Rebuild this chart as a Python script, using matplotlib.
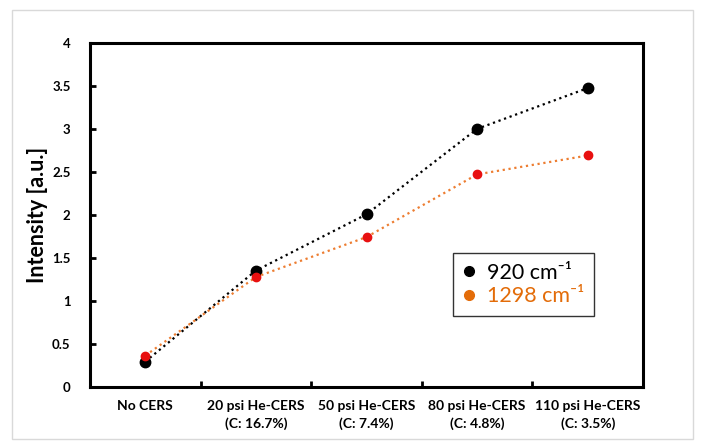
import matplotlib
matplotlib.use("Agg")
import matplotlib.pyplot as plt
from matplotlib.lines import Line2D
from matplotlib.patches import Rectangle

categories = ["No CERS", "20 psi He-CERS\n(C: 16.7%)", "50 psi He-CERS\n(C: 7.4%)",
              "80 psi He-CERS\n(C: 4.8%)", "110 psi He-CERS\n(C: 3.5%)"]
s920 = [0.29, 1.35, 2.005, 3.0, 3.475]
s1298 = [0.36, 1.275, 1.74, 2.47, 2.69]
yticks = [0, 0.5, 1, 1.5, 2, 2.5, 3, 3.5, 4]
ytick_labels = ["0", "0.5", "1", "1.5", "2", "2.5", "3", "3.5", "4"]

plt.rcParams['font.family'] = ['Lato', 'DejaVu Sans']

fig = plt.figure(figsize=(7.04, 4.48), dpi=100)
fig.patches.append(Rectangle((12/704, 1-439/448), (693-12)/704, (439-10)/448,
                             transform=fig.transFigure, fill=False,
                             edgecolor='#d9d9d9', linewidth=1.0))
ax = fig.add_axes([90/704, 1-386.5/448, (643-90)/704, (386.5-43)/448])

x = list(range(len(categories)))
ax.plot(x, s920, linestyle=':', color='black', linewidth=1.6, marker='o',
        markersize=7.5, markerfacecolor='black', markeredgecolor='black', zorder=3)
ax.plot(x, s1298, linestyle=':', color='#ed7d31', linewidth=1.6, marker='o',
        markersize=6, markerfacecolor='#e81010', markeredgecolor='#e81010', zorder=4)

ax.set_xlim(-0.5, len(categories) - 0.5)
ax.set_ylim(0, 4)
ax.set_yticks(yticks)
ax.set_yticklabels(ytick_labels, fontsize=9.5, fontweight='bold')
ax.set_xticks([i + 0.5 for i in range(len(categories) - 1)])
ax.set_xticklabels([])
ax.set_xticks(x, minor=True)
ax.set_xticklabels(categories, minor=True, fontsize=10, fontweight='bold',
                   linespacing=1.45)
ax.tick_params(axis='x', which='minor', length=0, pad=10)
ax.tick_params(axis='x', which='major', direction='in', length=4, width=2)
ax.tick_params(axis='y', direction='in', length=4, width=2, pad=14)
for sp in ax.spines.values():
    sp.set_linewidth(2.2)
ax.set_ylabel("Intensity [a.u.]", fontsize=15.5, fontweight='bold')
ax.yaxis.set_label_coords(-42/553, 0.5)

handles = [Line2D([], [], linestyle='none', marker='o', color='black', markersize=7),
           Line2D([], [], linestyle='none', marker='o', color='#e36c09', markersize=7)]
leg = ax.legend(handles, ["920 cm⁻¹", "1298 cm⁻¹"], loc='upper left',
                bbox_to_anchor=(0.657, 0.388), fontsize=15.5, frameon=True,
                fancybox=False, edgecolor='black', handlelength=0.6,
                handletextpad=0.5, borderpad=0.45, labelspacing=0.15,
                borderaxespad=0, labelcolor=['black', '#e36c09'])
leg.get_frame().set_linewidth(1.0)

fig.savefig("out.png", dpi=100)
